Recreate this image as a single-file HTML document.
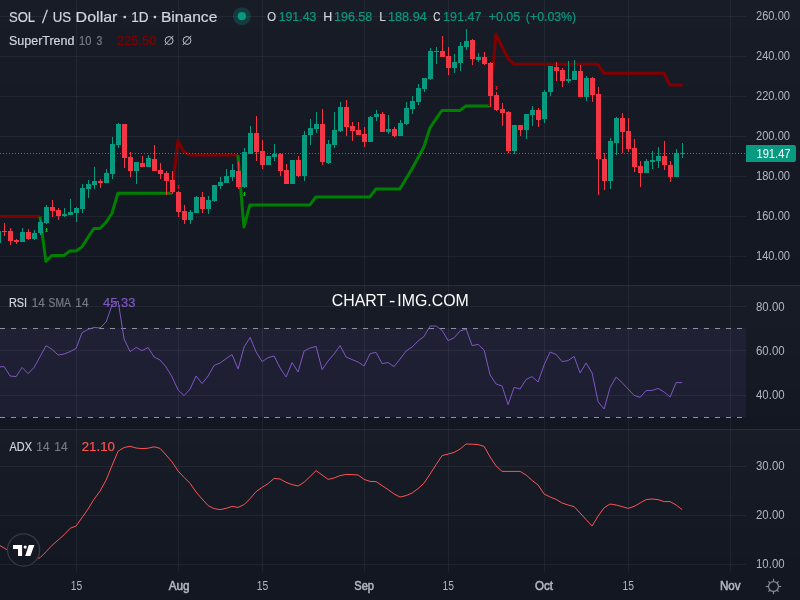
<!DOCTYPE html>
<html><head><meta charset="utf-8"><title>SOL / US Dollar</title>
<style>
html,body{margin:0;padding:0;background:#131722;}
body{width:800px;height:600px;overflow:hidden;font-family:"Liberation Sans",sans-serif;}
svg{display:block;position:absolute;left:0;top:0;}
text{font-family:"Liberation Sans",sans-serif;}
</style></head><body>
<svg width="800" height="600" viewBox="0 0 800 600">
<rect x="0" y="0" width="800" height="600" fill="#131722"/>
<g shape-rendering="crispEdges"><rect x="0" y="0" width="800" height="28" fill="#181c27"/><rect x="0" y="28" width="800" height="58" fill="#171b26"/><rect x="0" y="86" width="800" height="56" fill="#161a25"/><rect x="0" y="142" width="800" height="58" fill="#151924"/><rect x="0" y="200" width="800" height="56" fill="#141823"/><rect x="0" y="256" width="800" height="29" fill="#131722"/><rect x="0" y="286" width="800" height="14" fill="#181c27"/><rect x="0" y="300" width="800" height="29" fill="#171b26"/><rect x="0" y="329" width="800" height="29" fill="#161a25"/><rect x="0" y="358" width="800" height="28" fill="#151924"/><rect x="0" y="386" width="800" height="29" fill="#141823"/><rect x="0" y="415" width="800" height="14" fill="#131722"/><rect x="0" y="430" width="800" height="14" fill="#181c27"/><rect x="0" y="444" width="800" height="29" fill="#171b26"/><rect x="0" y="473" width="800" height="28" fill="#161a25"/><rect x="0" y="501" width="800" height="28" fill="#151924"/><rect x="0" y="529" width="800" height="29" fill="#141823"/><rect x="0" y="558" width="800" height="14" fill="#131722"/></g>
<rect x="0" y="328" width="746" height="89" fill="rgba(126,87,194,0.1)" shape-rendering="crispEdges"/>
<g shape-rendering="crispEdges" fill="rgba(240,243,250,0.06)">
<rect x="76" y="0" width="1" height="285"/><rect x="76" y="286" width="1" height="143"/><rect x="76" y="430" width="1" height="142"/><rect x="178" y="0" width="1" height="285"/><rect x="178" y="286" width="1" height="143"/><rect x="178" y="430" width="1" height="142"/><rect x="262" y="0" width="1" height="285"/><rect x="262" y="286" width="1" height="143"/><rect x="262" y="430" width="1" height="142"/><rect x="364" y="0" width="1" height="285"/><rect x="364" y="286" width="1" height="143"/><rect x="364" y="430" width="1" height="142"/><rect x="448" y="0" width="1" height="285"/><rect x="448" y="286" width="1" height="143"/><rect x="448" y="430" width="1" height="142"/><rect x="544" y="0" width="1" height="285"/><rect x="544" y="286" width="1" height="143"/><rect x="544" y="430" width="1" height="142"/><rect x="628" y="0" width="1" height="285"/><rect x="628" y="286" width="1" height="143"/><rect x="628" y="430" width="1" height="142"/><rect x="730" y="0" width="1" height="285"/><rect x="730" y="286" width="1" height="143"/><rect x="730" y="430" width="1" height="142"/><rect x="0" y="16" width="746" height="1"/><rect x="0" y="56" width="746" height="1"/><rect x="0" y="96" width="746" height="1"/><rect x="0" y="136" width="746" height="1"/><rect x="0" y="176" width="746" height="1"/><rect x="0" y="216" width="746" height="1"/><rect x="0" y="256" width="746" height="1"/><rect x="0" y="306" width="746" height="1"/><rect x="0" y="350" width="746" height="1"/><rect x="0" y="395" width="746" height="1"/><rect x="0" y="466" width="746" height="1"/><rect x="0" y="515" width="746" height="1"/><rect x="0" y="564" width="746" height="1"/></g>
<g shape-rendering="crispEdges" fill="#2a2e39"><rect x="0" y="285" width="800" height="1"/><rect x="0" y="429" width="800" height="1"/></g>
<g shape-rendering="crispEdges" fill="#8e919c"><rect x="0" y="328" width="5" height="1"/><rect x="11" y="328" width="5" height="1"/><rect x="22" y="328" width="5" height="1"/><rect x="33" y="328" width="5" height="1"/><rect x="44" y="328" width="5" height="1"/><rect x="55" y="328" width="5" height="1"/><rect x="66" y="328" width="5" height="1"/><rect x="77" y="328" width="5" height="1"/><rect x="88" y="328" width="5" height="1"/><rect x="99" y="328" width="5" height="1"/><rect x="110" y="328" width="5" height="1"/><rect x="121" y="328" width="5" height="1"/><rect x="132" y="328" width="5" height="1"/><rect x="143" y="328" width="5" height="1"/><rect x="154" y="328" width="5" height="1"/><rect x="165" y="328" width="5" height="1"/><rect x="176" y="328" width="5" height="1"/><rect x="187" y="328" width="5" height="1"/><rect x="198" y="328" width="5" height="1"/><rect x="209" y="328" width="5" height="1"/><rect x="220" y="328" width="5" height="1"/><rect x="231" y="328" width="5" height="1"/><rect x="242" y="328" width="5" height="1"/><rect x="253" y="328" width="5" height="1"/><rect x="264" y="328" width="5" height="1"/><rect x="275" y="328" width="5" height="1"/><rect x="286" y="328" width="5" height="1"/><rect x="297" y="328" width="5" height="1"/><rect x="308" y="328" width="5" height="1"/><rect x="319" y="328" width="5" height="1"/><rect x="330" y="328" width="5" height="1"/><rect x="341" y="328" width="5" height="1"/><rect x="352" y="328" width="5" height="1"/><rect x="363" y="328" width="5" height="1"/><rect x="374" y="328" width="5" height="1"/><rect x="385" y="328" width="5" height="1"/><rect x="396" y="328" width="5" height="1"/><rect x="407" y="328" width="5" height="1"/><rect x="418" y="328" width="5" height="1"/><rect x="429" y="328" width="5" height="1"/><rect x="440" y="328" width="5" height="1"/><rect x="451" y="328" width="5" height="1"/><rect x="462" y="328" width="5" height="1"/><rect x="473" y="328" width="5" height="1"/><rect x="484" y="328" width="5" height="1"/><rect x="495" y="328" width="5" height="1"/><rect x="506" y="328" width="5" height="1"/><rect x="517" y="328" width="5" height="1"/><rect x="528" y="328" width="5" height="1"/><rect x="539" y="328" width="5" height="1"/><rect x="550" y="328" width="5" height="1"/><rect x="561" y="328" width="5" height="1"/><rect x="572" y="328" width="5" height="1"/><rect x="583" y="328" width="5" height="1"/><rect x="594" y="328" width="5" height="1"/><rect x="605" y="328" width="5" height="1"/><rect x="616" y="328" width="5" height="1"/><rect x="627" y="328" width="5" height="1"/><rect x="638" y="328" width="5" height="1"/><rect x="649" y="328" width="5" height="1"/><rect x="660" y="328" width="5" height="1"/><rect x="671" y="328" width="5" height="1"/><rect x="682" y="328" width="5" height="1"/><rect x="693" y="328" width="5" height="1"/><rect x="704" y="328" width="5" height="1"/><rect x="715" y="328" width="5" height="1"/><rect x="726" y="328" width="5" height="1"/><rect x="737" y="328" width="5" height="1"/><rect x="0" y="417" width="5" height="1"/><rect x="11" y="417" width="5" height="1"/><rect x="22" y="417" width="5" height="1"/><rect x="33" y="417" width="5" height="1"/><rect x="44" y="417" width="5" height="1"/><rect x="55" y="417" width="5" height="1"/><rect x="66" y="417" width="5" height="1"/><rect x="77" y="417" width="5" height="1"/><rect x="88" y="417" width="5" height="1"/><rect x="99" y="417" width="5" height="1"/><rect x="110" y="417" width="5" height="1"/><rect x="121" y="417" width="5" height="1"/><rect x="132" y="417" width="5" height="1"/><rect x="143" y="417" width="5" height="1"/><rect x="154" y="417" width="5" height="1"/><rect x="165" y="417" width="5" height="1"/><rect x="176" y="417" width="5" height="1"/><rect x="187" y="417" width="5" height="1"/><rect x="198" y="417" width="5" height="1"/><rect x="209" y="417" width="5" height="1"/><rect x="220" y="417" width="5" height="1"/><rect x="231" y="417" width="5" height="1"/><rect x="242" y="417" width="5" height="1"/><rect x="253" y="417" width="5" height="1"/><rect x="264" y="417" width="5" height="1"/><rect x="275" y="417" width="5" height="1"/><rect x="286" y="417" width="5" height="1"/><rect x="297" y="417" width="5" height="1"/><rect x="308" y="417" width="5" height="1"/><rect x="319" y="417" width="5" height="1"/><rect x="330" y="417" width="5" height="1"/><rect x="341" y="417" width="5" height="1"/><rect x="352" y="417" width="5" height="1"/><rect x="363" y="417" width="5" height="1"/><rect x="374" y="417" width="5" height="1"/><rect x="385" y="417" width="5" height="1"/><rect x="396" y="417" width="5" height="1"/><rect x="407" y="417" width="5" height="1"/><rect x="418" y="417" width="5" height="1"/><rect x="429" y="417" width="5" height="1"/><rect x="440" y="417" width="5" height="1"/><rect x="451" y="417" width="5" height="1"/><rect x="462" y="417" width="5" height="1"/><rect x="473" y="417" width="5" height="1"/><rect x="484" y="417" width="5" height="1"/><rect x="495" y="417" width="5" height="1"/><rect x="506" y="417" width="5" height="1"/><rect x="517" y="417" width="5" height="1"/><rect x="528" y="417" width="5" height="1"/><rect x="539" y="417" width="5" height="1"/><rect x="550" y="417" width="5" height="1"/><rect x="561" y="417" width="5" height="1"/><rect x="572" y="417" width="5" height="1"/><rect x="583" y="417" width="5" height="1"/><rect x="594" y="417" width="5" height="1"/><rect x="605" y="417" width="5" height="1"/><rect x="616" y="417" width="5" height="1"/><rect x="627" y="417" width="5" height="1"/><rect x="638" y="417" width="5" height="1"/><rect x="649" y="417" width="5" height="1"/><rect x="660" y="417" width="5" height="1"/><rect x="671" y="417" width="5" height="1"/><rect x="682" y="417" width="5" height="1"/><rect x="693" y="417" width="5" height="1"/><rect x="704" y="417" width="5" height="1"/><rect x="715" y="417" width="5" height="1"/><rect x="726" y="417" width="5" height="1"/><rect x="737" y="417" width="5" height="1"/></g>
<polyline points="-8.1,216.5 39.9,216.5" fill="none" stroke="#800000" stroke-width="3" stroke-linejoin="round" stroke-linecap="butt"/>
<polyline points="39.9,216.5 45.9,261.3 51.9,255.5 57.9,255.5 63.9,255.5 69.9,251.0 75.9,251.0 81.9,247.0 87.9,237.5 93.9,228.5 99.9,228.5 105.9,222.5 111.9,213.5 117.9,193.2 171.9,193.2" fill="none" stroke="#008000" stroke-width="3" stroke-linejoin="round" stroke-linecap="butt"/>
<polyline points="171.9,193.2 177.9,141.0 183.9,152.0 189.9,155.0 237.9,155.0" fill="none" stroke="#800000" stroke-width="3" stroke-linejoin="round" stroke-linecap="butt"/>
<polyline points="237.9,155.0 243.9,227.0 249.9,204.9 309.9,204.9 315.9,196.9 369.9,196.9 375.9,189.0 399.9,189.0 405.9,179.0 411.9,169.0 417.9,158.0 423.9,147.0 429.9,128.0 435.9,119.2 441.9,110.5 459.9,110.5 465.9,106.0 489.9,106.0" fill="none" stroke="#008000" stroke-width="3" stroke-linejoin="round" stroke-linecap="butt"/>
<polyline points="489.9,106.0 495.9,34.2 501.9,46.5 507.9,58.0 513.9,64.3 597.9,64.3 603.9,73.2 663.9,73.2 669.9,85.0 682.9,85.0" fill="none" stroke="#800000" stroke-width="3" stroke-linejoin="round" stroke-linecap="butt"/>
<g shape-rendering="crispEdges">
<rect x="-2" y="229" width="1" height="15" fill="#089981"/><rect x="-4" y="231" width="5" height="12" fill="#089981"/>
<rect x="4" y="223" width="1" height="13" fill="#f23645"/><rect x="2" y="231" width="5" height="1" fill="#f23645"/>
<rect x="10" y="228" width="1" height="17" fill="#f23645"/><rect x="8" y="231" width="5" height="10" fill="#f23645"/>
<rect x="16" y="239" width="1" height="5" fill="#f23645"/><rect x="14" y="240" width="5" height="2" fill="#f23645"/>
<rect x="22" y="228" width="1" height="14" fill="#089981"/><rect x="20" y="232" width="5" height="10" fill="#089981"/>
<rect x="28" y="229" width="1" height="11" fill="#f23645"/><rect x="26" y="232" width="5" height="7" fill="#f23645"/>
<rect x="34" y="230" width="1" height="10" fill="#089981"/><rect x="32" y="233" width="5" height="6" fill="#089981"/>
<rect x="40" y="220" width="1" height="15" fill="#089981"/><rect x="38" y="222" width="5" height="11" fill="#089981"/>
<rect x="46" y="205" width="1" height="19" fill="#089981"/><rect x="44" y="207" width="5" height="16" fill="#089981"/>
<rect x="52" y="200" width="1" height="17" fill="#f23645"/><rect x="50" y="207" width="5" height="4" fill="#f23645"/>
<rect x="58" y="208" width="1" height="12" fill="#f23645"/><rect x="56" y="210" width="5" height="6" fill="#f23645"/>
<rect x="64" y="208" width="1" height="9" fill="#089981"/><rect x="62" y="214" width="5" height="2" fill="#089981"/>
<rect x="70" y="199" width="1" height="16" fill="#089981"/><rect x="68" y="212" width="5" height="3" fill="#089981"/>
<rect x="76" y="207" width="1" height="15" fill="#089981"/><rect x="74" y="208" width="5" height="5" fill="#089981"/>
<rect x="82" y="184" width="1" height="29" fill="#089981"/><rect x="80" y="188" width="5" height="21" fill="#089981"/>
<rect x="88" y="180" width="1" height="18" fill="#089981"/><rect x="86" y="184" width="5" height="5" fill="#089981"/>
<rect x="94" y="167" width="1" height="22" fill="#089981"/><rect x="92" y="181" width="5" height="4" fill="#089981"/>
<rect x="100" y="179" width="1" height="9" fill="#f23645"/><rect x="98" y="181" width="5" height="2" fill="#f23645"/>
<rect x="106" y="169" width="1" height="14" fill="#089981"/><rect x="104" y="173" width="5" height="10" fill="#089981"/>
<rect x="112" y="137" width="1" height="42" fill="#089981"/><rect x="110" y="144" width="5" height="30" fill="#089981"/>
<rect x="118" y="123" width="1" height="25" fill="#089981"/><rect x="116" y="124" width="5" height="21" fill="#089981"/>
<rect x="124" y="124" width="1" height="44" fill="#f23645"/><rect x="122" y="124" width="5" height="34" fill="#f23645"/>
<rect x="130" y="152" width="1" height="25" fill="#f23645"/><rect x="128" y="157" width="5" height="14" fill="#f23645"/>
<rect x="136" y="162" width="1" height="22" fill="#089981"/><rect x="134" y="162" width="5" height="9" fill="#089981"/>
<rect x="142" y="156" width="1" height="11" fill="#f23645"/><rect x="140" y="163" width="5" height="4" fill="#f23645"/>
<rect x="148" y="155" width="1" height="12" fill="#089981"/><rect x="146" y="158" width="5" height="9" fill="#089981"/>
<rect x="154" y="145" width="1" height="26" fill="#f23645"/><rect x="152" y="159" width="5" height="12" fill="#f23645"/>
<rect x="160" y="163" width="1" height="16" fill="#f23645"/><rect x="158" y="170" width="5" height="4" fill="#f23645"/>
<rect x="166" y="171" width="1" height="24" fill="#f23645"/><rect x="164" y="173" width="5" height="8" fill="#f23645"/>
<rect x="172" y="171" width="1" height="23" fill="#f23645"/><rect x="170" y="180" width="5" height="12" fill="#f23645"/>
<rect x="178" y="191" width="1" height="26" fill="#f23645"/><rect x="176" y="192" width="5" height="20" fill="#f23645"/>
<rect x="184" y="205" width="1" height="19" fill="#f23645"/><rect x="182" y="211" width="5" height="9" fill="#f23645"/>
<rect x="190" y="210" width="1" height="14" fill="#089981"/><rect x="188" y="212" width="5" height="8" fill="#089981"/>
<rect x="196" y="196" width="1" height="17" fill="#089981"/><rect x="194" y="197" width="5" height="16" fill="#089981"/>
<rect x="202" y="192" width="1" height="21" fill="#f23645"/><rect x="200" y="197" width="5" height="12" fill="#f23645"/>
<rect x="208" y="196" width="1" height="18" fill="#089981"/><rect x="206" y="200" width="5" height="9" fill="#089981"/>
<rect x="214" y="185" width="1" height="17" fill="#089981"/><rect x="212" y="185" width="5" height="16" fill="#089981"/>
<rect x="220" y="177" width="1" height="12" fill="#089981"/><rect x="218" y="182" width="5" height="4" fill="#089981"/>
<rect x="226" y="169" width="1" height="14" fill="#089981"/><rect x="224" y="176" width="5" height="7" fill="#089981"/>
<rect x="232" y="164" width="1" height="17" fill="#089981"/><rect x="230" y="170" width="5" height="7" fill="#089981"/>
<rect x="238" y="162" width="1" height="27" fill="#f23645"/><rect x="236" y="171" width="5" height="16" fill="#f23645"/>
<rect x="244" y="148" width="1" height="40" fill="#089981"/><rect x="242" y="152" width="5" height="35" fill="#089981"/>
<rect x="250" y="126" width="1" height="28" fill="#089981"/><rect x="248" y="133" width="5" height="21" fill="#089981"/>
<rect x="256" y="116" width="1" height="45" fill="#f23645"/><rect x="254" y="133" width="5" height="19" fill="#f23645"/>
<rect x="262" y="140" width="1" height="29" fill="#f23645"/><rect x="260" y="151" width="5" height="14" fill="#f23645"/>
<rect x="268" y="156" width="1" height="9" fill="#089981"/><rect x="266" y="156" width="5" height="9" fill="#089981"/>
<rect x="274" y="144" width="1" height="17" fill="#089981"/><rect x="272" y="154" width="5" height="3" fill="#089981"/>
<rect x="280" y="153" width="1" height="23" fill="#f23645"/><rect x="278" y="154" width="5" height="17" fill="#f23645"/>
<rect x="286" y="164" width="1" height="20" fill="#f23645"/><rect x="284" y="170" width="5" height="14" fill="#f23645"/>
<rect x="292" y="160" width="1" height="24" fill="#089981"/><rect x="290" y="160" width="5" height="24" fill="#089981"/>
<rect x="298" y="156" width="1" height="21" fill="#f23645"/><rect x="296" y="160" width="5" height="16" fill="#f23645"/>
<rect x="304" y="131" width="1" height="50" fill="#089981"/><rect x="302" y="135" width="5" height="41" fill="#089981"/>
<rect x="310" y="119" width="1" height="26" fill="#089981"/><rect x="308" y="128" width="5" height="7" fill="#089981"/>
<rect x="316" y="112" width="1" height="21" fill="#089981"/><rect x="314" y="124" width="5" height="5" fill="#089981"/>
<rect x="322" y="109" width="1" height="56" fill="#f23645"/><rect x="320" y="124" width="5" height="38" fill="#f23645"/>
<rect x="328" y="140" width="1" height="24" fill="#089981"/><rect x="326" y="144" width="5" height="19" fill="#089981"/>
<rect x="334" y="112" width="1" height="36" fill="#089981"/><rect x="332" y="130" width="5" height="15" fill="#089981"/>
<rect x="340" y="102" width="1" height="30" fill="#089981"/><rect x="338" y="107" width="5" height="24" fill="#089981"/>
<rect x="346" y="100" width="1" height="36" fill="#f23645"/><rect x="344" y="107" width="5" height="20" fill="#f23645"/>
<rect x="352" y="122" width="1" height="19" fill="#f23645"/><rect x="350" y="126" width="5" height="5" fill="#f23645"/>
<rect x="358" y="122" width="1" height="13" fill="#f23645"/><rect x="356" y="130" width="5" height="5" fill="#f23645"/>
<rect x="364" y="127" width="1" height="20" fill="#f23645"/><rect x="362" y="134" width="5" height="8" fill="#f23645"/>
<rect x="370" y="116" width="1" height="26" fill="#089981"/><rect x="368" y="117" width="5" height="25" fill="#089981"/>
<rect x="376" y="110" width="1" height="11" fill="#089981"/><rect x="374" y="114" width="5" height="3" fill="#089981"/>
<rect x="382" y="112" width="1" height="20" fill="#f23645"/><rect x="380" y="114" width="5" height="18" fill="#f23645"/>
<rect x="388" y="115" width="1" height="19" fill="#089981"/><rect x="386" y="129" width="5" height="3" fill="#089981"/>
<rect x="394" y="127" width="1" height="10" fill="#f23645"/><rect x="392" y="129" width="5" height="7" fill="#f23645"/>
<rect x="400" y="120" width="1" height="16" fill="#089981"/><rect x="398" y="123" width="5" height="13" fill="#089981"/>
<rect x="406" y="102" width="1" height="23" fill="#089981"/><rect x="404" y="108" width="5" height="16" fill="#089981"/>
<rect x="412" y="96" width="1" height="18" fill="#089981"/><rect x="410" y="101" width="5" height="8" fill="#089981"/>
<rect x="418" y="84" width="1" height="21" fill="#089981"/><rect x="416" y="88" width="5" height="14" fill="#089981"/>
<rect x="424" y="78" width="1" height="14" fill="#089981"/><rect x="422" y="78" width="5" height="11" fill="#089981"/>
<rect x="430" y="48" width="1" height="32" fill="#089981"/><rect x="428" y="51" width="5" height="28" fill="#089981"/>
<rect x="436" y="47" width="1" height="17" fill="#089981"/><rect x="434" y="51" width="5" height="1" fill="#089981"/>
<rect x="442" y="36" width="1" height="21" fill="#f23645"/><rect x="440" y="51" width="5" height="6" fill="#f23645"/>
<rect x="448" y="47" width="1" height="28" fill="#f23645"/><rect x="446" y="56" width="5" height="12" fill="#f23645"/>
<rect x="454" y="54" width="1" height="19" fill="#089981"/><rect x="452" y="62" width="5" height="6" fill="#089981"/>
<rect x="460" y="42" width="1" height="29" fill="#089981"/><rect x="458" y="46" width="5" height="17" fill="#089981"/>
<rect x="466" y="29" width="1" height="21" fill="#089981"/><rect x="464" y="41" width="5" height="6" fill="#089981"/>
<rect x="472" y="39" width="1" height="26" fill="#f23645"/><rect x="470" y="40" width="5" height="19" fill="#f23645"/>
<rect x="478" y="53" width="1" height="9" fill="#089981"/><rect x="476" y="57" width="5" height="3" fill="#089981"/>
<rect x="484" y="52" width="1" height="13" fill="#f23645"/><rect x="482" y="57" width="5" height="7" fill="#f23645"/>
<rect x="490" y="62" width="1" height="45" fill="#f23645"/><rect x="488" y="63" width="5" height="33" fill="#f23645"/>
<rect x="496" y="92" width="1" height="19" fill="#f23645"/><rect x="494" y="95" width="5" height="15" fill="#f23645"/>
<rect x="502" y="103" width="1" height="23" fill="#f23645"/><rect x="500" y="109" width="5" height="4" fill="#f23645"/>
<rect x="508" y="111" width="1" height="42" fill="#f23645"/><rect x="506" y="112" width="5" height="39" fill="#f23645"/>
<rect x="514" y="125" width="1" height="29" fill="#089981"/><rect x="512" y="125" width="5" height="26" fill="#089981"/>
<rect x="520" y="125" width="1" height="11" fill="#f23645"/><rect x="518" y="125" width="5" height="5" fill="#f23645"/>
<rect x="526" y="114" width="1" height="25" fill="#089981"/><rect x="524" y="114" width="5" height="16" fill="#089981"/>
<rect x="532" y="106" width="1" height="20" fill="#089981"/><rect x="530" y="110" width="5" height="5" fill="#089981"/>
<rect x="538" y="108" width="1" height="19" fill="#f23645"/><rect x="536" y="110" width="5" height="10" fill="#f23645"/>
<rect x="544" y="90" width="1" height="33" fill="#089981"/><rect x="542" y="92" width="5" height="27" fill="#089981"/>
<rect x="550" y="66" width="1" height="30" fill="#089981"/><rect x="548" y="66" width="5" height="26" fill="#089981"/>
<rect x="556" y="62" width="1" height="19" fill="#f23645"/><rect x="554" y="67" width="5" height="4" fill="#f23645"/>
<rect x="562" y="68" width="1" height="19" fill="#f23645"/><rect x="560" y="70" width="5" height="11" fill="#f23645"/>
<rect x="568" y="61" width="1" height="22" fill="#089981"/><rect x="566" y="79" width="5" height="2" fill="#089981"/>
<rect x="574" y="60" width="1" height="20" fill="#089981"/><rect x="572" y="71" width="5" height="9" fill="#089981"/>
<rect x="580" y="65" width="1" height="32" fill="#f23645"/><rect x="578" y="71" width="5" height="26" fill="#f23645"/>
<rect x="586" y="76" width="1" height="25" fill="#089981"/><rect x="584" y="78" width="5" height="19" fill="#089981"/>
<rect x="592" y="77" width="1" height="25" fill="#f23645"/><rect x="590" y="78" width="5" height="17" fill="#f23645"/>
<rect x="598" y="87" width="1" height="108" fill="#f23645"/><rect x="596" y="94" width="5" height="65" fill="#f23645"/>
<rect x="604" y="153" width="1" height="37" fill="#f23645"/><rect x="602" y="159" width="5" height="22" fill="#f23645"/>
<rect x="610" y="138" width="1" height="51" fill="#089981"/><rect x="608" y="141" width="5" height="40" fill="#089981"/>
<rect x="616" y="117" width="1" height="38" fill="#089981"/><rect x="614" y="118" width="5" height="25" fill="#089981"/>
<rect x="622" y="113" width="1" height="40" fill="#f23645"/><rect x="620" y="118" width="5" height="14" fill="#f23645"/>
<rect x="628" y="118" width="1" height="34" fill="#f23645"/><rect x="626" y="131" width="5" height="18" fill="#f23645"/>
<rect x="634" y="139" width="1" height="33" fill="#f23645"/><rect x="632" y="148" width="5" height="19" fill="#f23645"/>
<rect x="640" y="161" width="1" height="26" fill="#f23645"/><rect x="638" y="166" width="5" height="7" fill="#f23645"/>
<rect x="646" y="159" width="1" height="14" fill="#089981"/><rect x="644" y="161" width="5" height="12" fill="#089981"/>
<rect x="652" y="151" width="1" height="18" fill="#089981"/><rect x="650" y="160" width="5" height="2" fill="#089981"/>
<rect x="658" y="147" width="1" height="21" fill="#089981"/><rect x="656" y="156" width="5" height="5" fill="#089981"/>
<rect x="664" y="141" width="1" height="29" fill="#f23645"/><rect x="662" y="156" width="5" height="9" fill="#f23645"/>
<rect x="670" y="161" width="1" height="21" fill="#f23645"/><rect x="668" y="165" width="5" height="12" fill="#f23645"/>
<rect x="676" y="149" width="1" height="28" fill="#089981"/><rect x="674" y="153" width="5" height="24" fill="#089981"/>
<rect x="682" y="143" width="1" height="15" fill="#089981"/><rect x="680" y="153" width="5" height="1" fill="#089981"/>
</g>
<g shape-rendering="crispEdges" fill="#089981"><rect x="0" y="153" width="1" height="1"/><rect x="3" y="153" width="1" height="1"/><rect x="6" y="153" width="1" height="1"/><rect x="9" y="153" width="1" height="1"/><rect x="12" y="153" width="1" height="1"/><rect x="15" y="153" width="1" height="1"/><rect x="18" y="153" width="1" height="1"/><rect x="21" y="153" width="1" height="1"/><rect x="24" y="153" width="1" height="1"/><rect x="27" y="153" width="1" height="1"/><rect x="30" y="153" width="1" height="1"/><rect x="33" y="153" width="1" height="1"/><rect x="36" y="153" width="1" height="1"/><rect x="39" y="153" width="1" height="1"/><rect x="42" y="153" width="1" height="1"/><rect x="45" y="153" width="1" height="1"/><rect x="48" y="153" width="1" height="1"/><rect x="51" y="153" width="1" height="1"/><rect x="54" y="153" width="1" height="1"/><rect x="57" y="153" width="1" height="1"/><rect x="60" y="153" width="1" height="1"/><rect x="63" y="153" width="1" height="1"/><rect x="66" y="153" width="1" height="1"/><rect x="69" y="153" width="1" height="1"/><rect x="72" y="153" width="1" height="1"/><rect x="75" y="153" width="1" height="1"/><rect x="78" y="153" width="1" height="1"/><rect x="81" y="153" width="1" height="1"/><rect x="84" y="153" width="1" height="1"/><rect x="87" y="153" width="1" height="1"/><rect x="90" y="153" width="1" height="1"/><rect x="93" y="153" width="1" height="1"/><rect x="96" y="153" width="1" height="1"/><rect x="99" y="153" width="1" height="1"/><rect x="102" y="153" width="1" height="1"/><rect x="105" y="153" width="1" height="1"/><rect x="108" y="153" width="1" height="1"/><rect x="111" y="153" width="1" height="1"/><rect x="114" y="153" width="1" height="1"/><rect x="117" y="153" width="1" height="1"/><rect x="120" y="153" width="1" height="1"/><rect x="123" y="153" width="1" height="1"/><rect x="126" y="153" width="1" height="1"/><rect x="129" y="153" width="1" height="1"/><rect x="132" y="153" width="1" height="1"/><rect x="135" y="153" width="1" height="1"/><rect x="138" y="153" width="1" height="1"/><rect x="141" y="153" width="1" height="1"/><rect x="144" y="153" width="1" height="1"/><rect x="147" y="153" width="1" height="1"/><rect x="150" y="153" width="1" height="1"/><rect x="153" y="153" width="1" height="1"/><rect x="156" y="153" width="1" height="1"/><rect x="159" y="153" width="1" height="1"/><rect x="162" y="153" width="1" height="1"/><rect x="165" y="153" width="1" height="1"/><rect x="168" y="153" width="1" height="1"/><rect x="171" y="153" width="1" height="1"/><rect x="174" y="153" width="1" height="1"/><rect x="177" y="153" width="1" height="1"/><rect x="180" y="153" width="1" height="1"/><rect x="183" y="153" width="1" height="1"/><rect x="186" y="153" width="1" height="1"/><rect x="189" y="153" width="1" height="1"/><rect x="192" y="153" width="1" height="1"/><rect x="195" y="153" width="1" height="1"/><rect x="198" y="153" width="1" height="1"/><rect x="201" y="153" width="1" height="1"/><rect x="204" y="153" width="1" height="1"/><rect x="207" y="153" width="1" height="1"/><rect x="210" y="153" width="1" height="1"/><rect x="213" y="153" width="1" height="1"/><rect x="216" y="153" width="1" height="1"/><rect x="219" y="153" width="1" height="1"/><rect x="222" y="153" width="1" height="1"/><rect x="225" y="153" width="1" height="1"/><rect x="228" y="153" width="1" height="1"/><rect x="231" y="153" width="1" height="1"/><rect x="234" y="153" width="1" height="1"/><rect x="237" y="153" width="1" height="1"/><rect x="240" y="153" width="1" height="1"/><rect x="243" y="153" width="1" height="1"/><rect x="246" y="153" width="1" height="1"/><rect x="249" y="153" width="1" height="1"/><rect x="252" y="153" width="1" height="1"/><rect x="255" y="153" width="1" height="1"/><rect x="258" y="153" width="1" height="1"/><rect x="261" y="153" width="1" height="1"/><rect x="264" y="153" width="1" height="1"/><rect x="267" y="153" width="1" height="1"/><rect x="270" y="153" width="1" height="1"/><rect x="273" y="153" width="1" height="1"/><rect x="276" y="153" width="1" height="1"/><rect x="279" y="153" width="1" height="1"/><rect x="282" y="153" width="1" height="1"/><rect x="285" y="153" width="1" height="1"/><rect x="288" y="153" width="1" height="1"/><rect x="291" y="153" width="1" height="1"/><rect x="294" y="153" width="1" height="1"/><rect x="297" y="153" width="1" height="1"/><rect x="300" y="153" width="1" height="1"/><rect x="303" y="153" width="1" height="1"/><rect x="306" y="153" width="1" height="1"/><rect x="309" y="153" width="1" height="1"/><rect x="312" y="153" width="1" height="1"/><rect x="315" y="153" width="1" height="1"/><rect x="318" y="153" width="1" height="1"/><rect x="321" y="153" width="1" height="1"/><rect x="324" y="153" width="1" height="1"/><rect x="327" y="153" width="1" height="1"/><rect x="330" y="153" width="1" height="1"/><rect x="333" y="153" width="1" height="1"/><rect x="336" y="153" width="1" height="1"/><rect x="339" y="153" width="1" height="1"/><rect x="342" y="153" width="1" height="1"/><rect x="345" y="153" width="1" height="1"/><rect x="348" y="153" width="1" height="1"/><rect x="351" y="153" width="1" height="1"/><rect x="354" y="153" width="1" height="1"/><rect x="357" y="153" width="1" height="1"/><rect x="360" y="153" width="1" height="1"/><rect x="363" y="153" width="1" height="1"/><rect x="366" y="153" width="1" height="1"/><rect x="369" y="153" width="1" height="1"/><rect x="372" y="153" width="1" height="1"/><rect x="375" y="153" width="1" height="1"/><rect x="378" y="153" width="1" height="1"/><rect x="381" y="153" width="1" height="1"/><rect x="384" y="153" width="1" height="1"/><rect x="387" y="153" width="1" height="1"/><rect x="390" y="153" width="1" height="1"/><rect x="393" y="153" width="1" height="1"/><rect x="396" y="153" width="1" height="1"/><rect x="399" y="153" width="1" height="1"/><rect x="402" y="153" width="1" height="1"/><rect x="405" y="153" width="1" height="1"/><rect x="408" y="153" width="1" height="1"/><rect x="411" y="153" width="1" height="1"/><rect x="414" y="153" width="1" height="1"/><rect x="417" y="153" width="1" height="1"/><rect x="420" y="153" width="1" height="1"/><rect x="423" y="153" width="1" height="1"/><rect x="426" y="153" width="1" height="1"/><rect x="429" y="153" width="1" height="1"/><rect x="432" y="153" width="1" height="1"/><rect x="435" y="153" width="1" height="1"/><rect x="438" y="153" width="1" height="1"/><rect x="441" y="153" width="1" height="1"/><rect x="444" y="153" width="1" height="1"/><rect x="447" y="153" width="1" height="1"/><rect x="450" y="153" width="1" height="1"/><rect x="453" y="153" width="1" height="1"/><rect x="456" y="153" width="1" height="1"/><rect x="459" y="153" width="1" height="1"/><rect x="462" y="153" width="1" height="1"/><rect x="465" y="153" width="1" height="1"/><rect x="468" y="153" width="1" height="1"/><rect x="471" y="153" width="1" height="1"/><rect x="474" y="153" width="1" height="1"/><rect x="477" y="153" width="1" height="1"/><rect x="480" y="153" width="1" height="1"/><rect x="483" y="153" width="1" height="1"/><rect x="486" y="153" width="1" height="1"/><rect x="489" y="153" width="1" height="1"/><rect x="492" y="153" width="1" height="1"/><rect x="495" y="153" width="1" height="1"/><rect x="498" y="153" width="1" height="1"/><rect x="501" y="153" width="1" height="1"/><rect x="504" y="153" width="1" height="1"/><rect x="507" y="153" width="1" height="1"/><rect x="510" y="153" width="1" height="1"/><rect x="513" y="153" width="1" height="1"/><rect x="516" y="153" width="1" height="1"/><rect x="519" y="153" width="1" height="1"/><rect x="522" y="153" width="1" height="1"/><rect x="525" y="153" width="1" height="1"/><rect x="528" y="153" width="1" height="1"/><rect x="531" y="153" width="1" height="1"/><rect x="534" y="153" width="1" height="1"/><rect x="537" y="153" width="1" height="1"/><rect x="540" y="153" width="1" height="1"/><rect x="543" y="153" width="1" height="1"/><rect x="546" y="153" width="1" height="1"/><rect x="549" y="153" width="1" height="1"/><rect x="552" y="153" width="1" height="1"/><rect x="555" y="153" width="1" height="1"/><rect x="558" y="153" width="1" height="1"/><rect x="561" y="153" width="1" height="1"/><rect x="564" y="153" width="1" height="1"/><rect x="567" y="153" width="1" height="1"/><rect x="570" y="153" width="1" height="1"/><rect x="573" y="153" width="1" height="1"/><rect x="576" y="153" width="1" height="1"/><rect x="579" y="153" width="1" height="1"/><rect x="582" y="153" width="1" height="1"/><rect x="585" y="153" width="1" height="1"/><rect x="588" y="153" width="1" height="1"/><rect x="591" y="153" width="1" height="1"/><rect x="594" y="153" width="1" height="1"/><rect x="597" y="153" width="1" height="1"/><rect x="600" y="153" width="1" height="1"/><rect x="603" y="153" width="1" height="1"/><rect x="606" y="153" width="1" height="1"/><rect x="609" y="153" width="1" height="1"/><rect x="612" y="153" width="1" height="1"/><rect x="615" y="153" width="1" height="1"/><rect x="618" y="153" width="1" height="1"/><rect x="621" y="153" width="1" height="1"/><rect x="624" y="153" width="1" height="1"/><rect x="627" y="153" width="1" height="1"/><rect x="630" y="153" width="1" height="1"/><rect x="633" y="153" width="1" height="1"/><rect x="636" y="153" width="1" height="1"/><rect x="639" y="153" width="1" height="1"/><rect x="642" y="153" width="1" height="1"/><rect x="645" y="153" width="1" height="1"/><rect x="648" y="153" width="1" height="1"/><rect x="651" y="153" width="1" height="1"/><rect x="654" y="153" width="1" height="1"/><rect x="657" y="153" width="1" height="1"/><rect x="660" y="153" width="1" height="1"/><rect x="663" y="153" width="1" height="1"/><rect x="666" y="153" width="1" height="1"/><rect x="669" y="153" width="1" height="1"/><rect x="672" y="153" width="1" height="1"/><rect x="675" y="153" width="1" height="1"/><rect x="678" y="153" width="1" height="1"/><rect x="681" y="153" width="1" height="1"/><rect x="684" y="153" width="1" height="1"/><rect x="687" y="153" width="1" height="1"/><rect x="690" y="153" width="1" height="1"/><rect x="693" y="153" width="1" height="1"/><rect x="696" y="153" width="1" height="1"/><rect x="699" y="153" width="1" height="1"/><rect x="702" y="153" width="1" height="1"/><rect x="705" y="153" width="1" height="1"/><rect x="708" y="153" width="1" height="1"/><rect x="711" y="153" width="1" height="1"/><rect x="714" y="153" width="1" height="1"/><rect x="717" y="153" width="1" height="1"/><rect x="720" y="153" width="1" height="1"/><rect x="723" y="153" width="1" height="1"/><rect x="726" y="153" width="1" height="1"/><rect x="729" y="153" width="1" height="1"/><rect x="732" y="153" width="1" height="1"/><rect x="735" y="153" width="1" height="1"/><rect x="738" y="153" width="1" height="1"/><rect x="741" y="153" width="1" height="1"/><rect x="744" y="153" width="1" height="1"/></g>
<g shape-rendering="crispEdges"><rect x="46" y="228" width="1" height="4" fill="#00c814"/><rect x="45" y="229" width="3" height="1" fill="#00c814" opacity="0.45"/><rect x="45" y="231" width="3" height="1" fill="#00c814" opacity="0.45"/></g>
<g shape-rendering="crispEdges"><rect x="244" y="192" width="1" height="4" fill="#00c814"/><rect x="243" y="193" width="3" height="1" fill="#00c814" opacity="0.45"/><rect x="243" y="195" width="3" height="1" fill="#00c814" opacity="0.45"/></g>
<g shape-rendering="crispEdges"><rect x="178" y="185" width="1" height="4" fill="#e01010"/><rect x="177" y="185" width="3" height="1" fill="#e01010" opacity="0.45"/><rect x="177" y="187" width="3" height="1" fill="#e01010" opacity="0.45"/></g>
<g shape-rendering="crispEdges"><rect x="496" y="86" width="1" height="4" fill="#e01010"/><rect x="495" y="86" width="3" height="1" fill="#e01010" opacity="0.45"/><rect x="495" y="88" width="3" height="1" fill="#e01010" opacity="0.45"/></g>
<polyline points="-1.9,367.0 4.1,366.6 10.1,376.0 16.1,376.6 22.1,367.4 28.1,373.6 34.1,367.4 40.1,356.6 46.1,345.6 52.1,349.4 58.1,355.0 64.1,354.0 70.1,351.6 76.1,348.4 82.1,332.6 88.1,329.4 94.1,327.4 100.1,328.0 106.1,322.0 112.1,305.0 118.1,301.0 124.1,339.0 130.1,351.6 136.1,347.4 142.1,350.6 148.1,347.5 154.1,357.0 160.1,360.0 166.1,367.0 172.1,377.0 178.1,390.0 184.1,395.6 190.1,389.0 196.1,376.0 202.1,383.6 208.1,376.0 214.1,365.4 220.1,363.0 226.1,358.6 232.1,354.6 238.1,369.0 244.1,347.0 250.1,337.4 256.1,352.0 262.1,361.6 268.1,357.6 274.1,356.0 280.1,368.0 286.1,377.0 292.1,362.6 298.1,372.0 304.1,351.0 310.1,348.0 316.1,346.4 322.1,369.6 328.1,361.0 334.1,354.0 340.1,345.6 346.1,357.0 352.1,359.6 358.1,362.0 364.1,366.0 370.1,353.6 376.1,352.4 382.1,363.6 388.1,362.6 394.1,366.6 400.1,359.0 406.1,351.0 412.1,347.0 418.1,341.0 424.1,336.4 430.1,326.0 436.1,326.0 442.1,330.4 448.1,340.6 454.1,337.8 460.1,331.0 466.1,329.0 472.1,345.6 478.1,344.4 484.1,350.0 490.1,375.0 496.1,384.0 502.1,386.0 508.1,404.6 514.1,387.4 520.1,389.0 526.1,379.4 532.1,376.6 538.1,382.0 544.1,365.0 550.1,352.0 556.1,354.4 562.1,361.6 568.1,360.6 574.1,356.4 580.1,373.0 586.1,363.0 592.1,373.0 598.1,401.8 604.1,409.0 610.1,387.5 616.1,377.0 622.1,382.6 628.1,389.0 634.1,395.4 640.1,397.4 646.1,390.6 652.1,390.4 658.1,388.4 664.1,392.0 670.1,397.0 676.1,382.6 682.1,382.6" fill="none" stroke="#7e57c2" stroke-width="1" stroke-linejoin="round"/>
<polyline points="-1.9,544.5 4.1,548.0 10.1,551.5 16.1,554.0 22.1,556.0 28.1,558.0 34.1,559.5 40.1,557.7 46.1,551.7 52.1,545.3 58.1,540.0 64.1,534.8 70.1,528.3 76.1,526.0 82.1,517.5 88.1,508.9 94.1,499.2 100.1,491.0 106.1,480.1 112.1,465.3 118.1,451.2 124.1,447.5 130.1,446.3 136.1,448.0 142.1,448.6 148.1,448.2 154.1,446.8 160.1,448.4 166.1,455.0 172.1,462.0 178.1,471.0 184.1,477.4 190.1,483.4 196.1,492.0 202.1,499.0 208.1,505.6 214.1,508.6 220.1,509.6 226.1,508.4 232.1,506.4 238.1,507.4 244.1,504.6 250.1,498.6 256.1,491.6 262.1,487.4 268.1,483.6 274.1,478.4 280.1,479.0 286.1,482.4 292.1,484.6 298.1,486.0 304.1,482.2 310.1,476.5 316.1,470.6 322.1,475.0 328.1,479.4 334.1,478.0 340.1,475.6 346.1,474.4 352.1,474.6 358.1,475.0 364.1,479.4 370.1,481.4 376.1,481.6 382.1,485.6 388.1,489.6 394.1,494.0 400.1,497.0 406.1,495.6 412.1,493.0 418.1,488.6 424.1,483.0 430.1,474.0 436.1,464.6 442.1,455.6 448.1,454.0 454.1,452.4 460.1,449.0 466.1,444.0 472.1,444.2 478.1,444.6 484.1,446.4 490.1,457.0 496.1,466.0 502.1,471.4 508.1,471.4 514.1,471.4 520.1,471.4 526.1,475.0 532.1,480.4 538.1,485.0 544.1,494.0 550.1,497.0 556.1,499.4 562.1,503.0 568.1,505.0 574.1,506.6 580.1,513.0 586.1,519.6 592.1,526.0 598.1,516.0 604.1,507.8 610.1,504.0 616.1,505.0 622.1,506.6 628.1,508.4 634.1,506.4 640.1,503.0 646.1,499.6 652.1,499.0 658.1,499.6 664.1,501.6 670.1,501.6 676.1,505.0 682.1,509.6" fill="none" stroke="#ff5252" stroke-width="1" stroke-linejoin="round"/>
<path d="M746 145 H794 a2 2 0 0 1 2 2 V160 a2 2 0 0 1 -2 2 H746 Z" fill="#089981"/>
<g stroke="#868993" stroke-width="1.2" fill="none"><circle cx="773.5" cy="586.5" r="4.95"/><line x1="778.80" y1="586.50" x2="781.20" y2="586.50"/><line x1="777.25" y1="590.25" x2="778.59" y2="591.59"/><line x1="773.50" y1="591.80" x2="773.50" y2="594.20"/><line x1="769.75" y1="590.25" x2="768.41" y2="591.59"/><line x1="768.20" y1="586.50" x2="765.80" y2="586.50"/><line x1="769.75" y1="582.75" x2="768.41" y2="581.41"/><line x1="773.50" y1="581.20" x2="773.50" y2="578.80"/><line x1="777.25" y1="582.75" x2="778.59" y2="581.41"/></g>
<line x1="42.4" y1="23.2" x2="47.4" y2="9.8" stroke="#d1d4dc" stroke-width="1.25"/>
<rect x="123.6" y="15.9" width="2.3" height="2.3" fill="#d1d4dc"/><rect x="153.8" y="15.9" width="2.3" height="2.3" fill="#d1d4dc"/>
<circle cx="241.9" cy="16.2" r="9" fill="rgba(8,153,129,0.25)"/><circle cx="241.9" cy="16.2" r="4.1" fill="#089981"/>
<g stroke="#d1d4dc" stroke-width="1" fill="none" opacity="0.9"><circle cx="169.1" cy="40.5" r="3.95"/><line x1="164.8" y1="45.1" x2="173.4" y2="35.8"/></g>
<g stroke="#d1d4dc" stroke-width="1" fill="none" opacity="0.9"><circle cx="187.0" cy="40.5" r="3.95"/><line x1="182.7" y1="45.1" x2="191.3" y2="35.8"/></g>
<circle cx="23.6" cy="550" r="16.1" fill="#141823" stroke="#363a45" stroke-width="1.3"/>
<g fill="#ffffff"><path d="M13 545 H22.1 V556 H18 V549 H13 Z"/><circle cx="25.2" cy="547.1" r="1.55"/><path d="M28.8 545 H34.4 L30.4 556 H25.2 Z"/></g>
</svg>
<svg width="800" height="600" viewBox="0 0 800 600" style="will-change:transform">
<text x="756" y="20.0" font-size="12" fill="#b2b5be" textLength="34" lengthAdjust="spacingAndGlyphs">260.00</text>
<text x="756" y="60.0" font-size="12" fill="#b2b5be" textLength="34" lengthAdjust="spacingAndGlyphs">240.00</text>
<text x="756" y="100.0" font-size="12" fill="#b2b5be" textLength="34" lengthAdjust="spacingAndGlyphs">220.00</text>
<text x="756" y="140.0" font-size="12" fill="#b2b5be" textLength="34" lengthAdjust="spacingAndGlyphs">200.00</text>
<text x="756" y="180.0" font-size="12" fill="#b2b5be" textLength="34" lengthAdjust="spacingAndGlyphs">180.00</text>
<text x="756" y="220.0" font-size="12" fill="#b2b5be" textLength="34" lengthAdjust="spacingAndGlyphs">160.00</text>
<text x="756" y="260.0" font-size="12" fill="#b2b5be" textLength="34" lengthAdjust="spacingAndGlyphs">140.00</text>
<text x="756" y="310.9" font-size="12" fill="#b2b5be" textLength="28.6" lengthAdjust="spacingAndGlyphs">80.00</text>
<text x="756" y="354.9" font-size="12" fill="#b2b5be" textLength="28.6" lengthAdjust="spacingAndGlyphs">60.00</text>
<text x="756" y="398.9" font-size="12" fill="#b2b5be" textLength="28.6" lengthAdjust="spacingAndGlyphs">40.00</text>
<text x="756" y="470.2" font-size="12" fill="#b2b5be" textLength="28.6" lengthAdjust="spacingAndGlyphs">30.00</text>
<text x="756" y="519.2" font-size="12" fill="#b2b5be" textLength="28.6" lengthAdjust="spacingAndGlyphs">20.00</text>
<text x="756" y="568.2" font-size="12" fill="#b2b5be" textLength="28.6" lengthAdjust="spacingAndGlyphs">10.00</text>
<text x="756.5" y="158" font-size="12" fill="#ffffff" textLength="34" lengthAdjust="spacingAndGlyphs">191.47</text>
<text x="8.95" y="21.50" font-size="14.5" fill="#d1d4dc" textLength="26.19" lengthAdjust="spacingAndGlyphs" stroke="#d1d4dc" stroke-width="0.2">SOL</text>
<text x="52.69" y="21.50" font-size="14.5" fill="#d1d4dc" textLength="18.38" lengthAdjust="spacingAndGlyphs" stroke="#d1d4dc" stroke-width="0.2">US</text>
<text x="75.60" y="21.50" font-size="14.5" fill="#d1d4dc" textLength="41.84" lengthAdjust="spacingAndGlyphs" stroke="#d1d4dc" stroke-width="0.2">Dollar</text>
<text x="131.26" y="21.50" font-size="14.5" fill="#d1d4dc" textLength="17.35" lengthAdjust="spacingAndGlyphs" stroke="#d1d4dc" stroke-width="0.2">1D</text>
<text x="160.92" y="21.50" font-size="14.5" fill="#d1d4dc" textLength="56.41" lengthAdjust="spacingAndGlyphs" stroke="#d1d4dc" stroke-width="0.2">Binance</text>
<text x="267.14" y="21.00" font-size="12.3" fill="#d1d4dc" textLength="8.79" lengthAdjust="spacingAndGlyphs" stroke="#d1d4dc" stroke-width="0.2">O</text>
<text x="278.65" y="21.00" font-size="12.3" fill="#089981" textLength="37.73" lengthAdjust="spacingAndGlyphs" stroke="#089981" stroke-width="0.2">191.43</text>
<text x="323.34" y="21.00" font-size="12.3" fill="#d1d4dc" textLength="8.95" lengthAdjust="spacingAndGlyphs" stroke="#d1d4dc" stroke-width="0.2">H</text>
<text x="333.94" y="21.00" font-size="12.3" fill="#089981" textLength="38.35" lengthAdjust="spacingAndGlyphs" stroke="#089981" stroke-width="0.2">196.58</text>
<text x="379.30" y="21.00" font-size="12.3" fill="#d1d4dc" textLength="6.43" lengthAdjust="spacingAndGlyphs" stroke="#d1d4dc" stroke-width="0.2">L</text>
<text x="387.93" y="21.00" font-size="12.3" fill="#089981" textLength="38.86" lengthAdjust="spacingAndGlyphs" stroke="#089981" stroke-width="0.2">188.94</text>
<text x="433.29" y="21.00" font-size="12.3" fill="#d1d4dc" textLength="7.22" lengthAdjust="spacingAndGlyphs" stroke="#d1d4dc" stroke-width="0.2">C</text>
<text x="443.14" y="21.00" font-size="12.3" fill="#089981" textLength="38.30" lengthAdjust="spacingAndGlyphs" stroke="#089981" stroke-width="0.2">191.47</text>
<text x="488.75" y="21.00" font-size="12.3" fill="#089981" textLength="31.43" lengthAdjust="spacingAndGlyphs" stroke="#089981" stroke-width="0.2">+0.05</text>
<text x="525.85" y="21.00" font-size="12.3" fill="#089981" textLength="50.30" lengthAdjust="spacingAndGlyphs" stroke="#089981" stroke-width="0.2">(+0.03%)</text>
<text x="8.99" y="44.60" font-size="12.3" fill="#d1d4dc" textLength="65.45" lengthAdjust="spacingAndGlyphs" stroke="#d1d4dc" stroke-width="0.2">SuperTrend</text>
<text x="79.06" y="44.60" font-size="12" fill="#787b86" textLength="12.38" lengthAdjust="spacingAndGlyphs" stroke="#787b86" stroke-width="0.2">10</text>
<text x="96.58" y="44.60" font-size="12" fill="#787b86" textLength="5.80" lengthAdjust="spacingAndGlyphs" stroke="#787b86" stroke-width="0.2">3</text>
<text x="117.07" y="44.60" font-size="12" fill="#800000" textLength="39.25" lengthAdjust="spacingAndGlyphs" stroke="#800000" stroke-width="0.2">225.50</text>
<text x="8.92" y="306.60" font-size="12" fill="#d1d4dc" textLength="18.26" lengthAdjust="spacingAndGlyphs" stroke="#d1d4dc" stroke-width="0.2">RSI</text>
<text x="31.67" y="306.60" font-size="12" fill="#787b86" textLength="13.04" lengthAdjust="spacingAndGlyphs" stroke="#787b86" stroke-width="0.2">14</text>
<text x="48.57" y="306.60" font-size="12" fill="#787b86" textLength="22.34" lengthAdjust="spacingAndGlyphs" stroke="#787b86" stroke-width="0.2">SMA</text>
<text x="75.36" y="306.60" font-size="12" fill="#787b86" textLength="13.15" lengthAdjust="spacingAndGlyphs" stroke="#787b86" stroke-width="0.2">14</text>
<text x="102.98" y="306.60" font-size="12" fill="#7e57c2" textLength="32.42" lengthAdjust="spacingAndGlyphs" stroke="#7e57c2" stroke-width="0.2">45.33</text>
<text x="9.60" y="450.70" font-size="12" fill="#d1d4dc" textLength="22.42" lengthAdjust="spacingAndGlyphs" stroke="#d1d4dc" stroke-width="0.2">ADX</text>
<text x="36.36" y="450.70" font-size="12" fill="#787b86" textLength="13.09" lengthAdjust="spacingAndGlyphs" stroke="#787b86" stroke-width="0.2">14</text>
<text x="54.36" y="450.70" font-size="12" fill="#787b86" textLength="13.15" lengthAdjust="spacingAndGlyphs" stroke="#787b86" stroke-width="0.2">14</text>
<text x="81.70" y="450.70" font-size="12" fill="#ff5252" textLength="33.21" lengthAdjust="spacingAndGlyphs" stroke="#ff5252" stroke-width="0.2">21.10</text>
<text x="70.76" y="590.00" font-size="12" fill="#b2b5be" textLength="11.45" lengthAdjust="spacingAndGlyphs">15</text>
<text x="168.64" y="590.00" font-size="12" fill="#b2b5be" textLength="20.86" lengthAdjust="spacingAndGlyphs" stroke="#b2b5be" stroke-width="0.55">Aug</text>
<text x="256.65" y="590.00" font-size="12" fill="#b2b5be" textLength="11.51" lengthAdjust="spacingAndGlyphs">15</text>
<text x="354.27" y="590.00" font-size="12" fill="#b2b5be" textLength="19.73" lengthAdjust="spacingAndGlyphs" stroke="#b2b5be" stroke-width="0.55">Sep</text>
<text x="442.46" y="590.00" font-size="12" fill="#b2b5be" textLength="11.45" lengthAdjust="spacingAndGlyphs">15</text>
<text x="535.11" y="590.00" font-size="12" fill="#b2b5be" textLength="17.97" lengthAdjust="spacingAndGlyphs" stroke="#b2b5be" stroke-width="0.55">Oct</text>
<text x="622.46" y="590.00" font-size="12" fill="#b2b5be" textLength="11.45" lengthAdjust="spacingAndGlyphs">15</text>
<text x="719.88" y="590.00" font-size="12" fill="#b2b5be" textLength="20.63" lengthAdjust="spacingAndGlyphs" stroke="#b2b5be" stroke-width="0.55">Nov</text>
<text x="331.75" y="305.80" font-size="16" fill="#ffffff" textLength="54.47" lengthAdjust="spacingAndGlyphs">CHART</text>
<text x="389.11" y="305.80" font-size="16" fill="#ffffff" textLength="6.33" lengthAdjust="spacingAndGlyphs">-</text>
<text x="397.26" y="305.80" font-size="16" fill="#ffffff" textLength="71.48" lengthAdjust="spacingAndGlyphs">IMG.COM</text>
</svg>
</body></html>
